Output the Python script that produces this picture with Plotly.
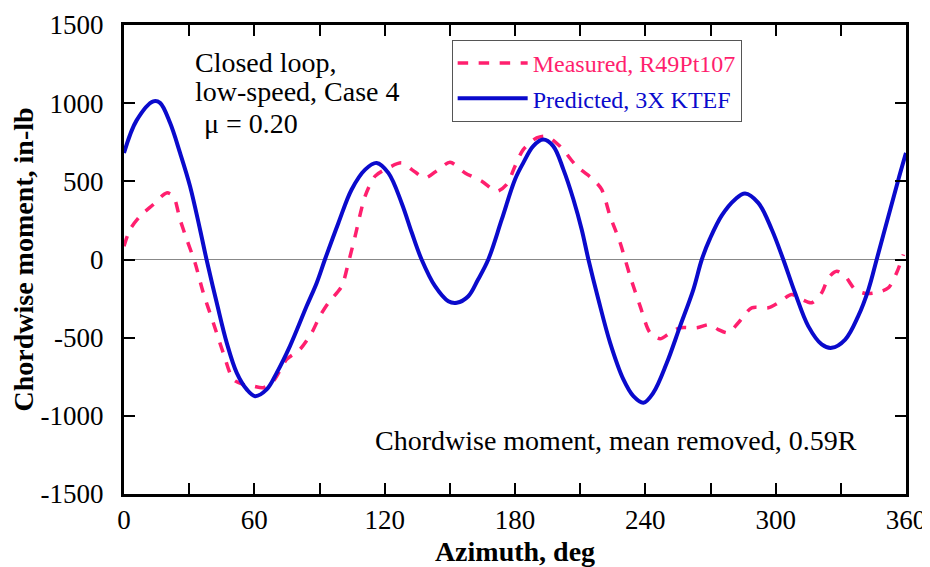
import plotly.graph_objects as go

# Predicted, 3X KTEF
pred_az = [0, 5.8, 13.5, 16.6, 21.2, 25.8, 30.4, 35, 38, 42.7, 47.3, 51.9, 56.5, 60.3, 65.7,
           70.3, 76.4, 84.1, 88.7, 92.5, 98.7, 104.8, 111, 116.3, 121.7, 127.8, 132.5, 137,
           143.2, 149.3, 153.2, 158.5, 163, 167.7, 173.9, 180, 183.8, 188.4, 193, 197.6, 202.3,
           206.9, 210.7, 213.8, 218.4, 223.8, 229.9, 234.5, 239.1, 243.7, 249.9, 256, 262.1, 266,
           269.8, 275.2, 281.3, 285.9, 292, 298.2, 303.5, 308.9, 315, 321.2, 325.8, 332, 338,
           342.7, 346.5, 351.9, 356.5, 360]
pred_mom = [682, 890, 1012, 1002, 874, 682, 469, 192, 0, -277, -533, -725, -831, -874, -831,
            -725, -554, -298, -150, 0, 234, 448, 575, 618, 554, 362, 171, 0,
            -171, -267, -277, -235, -128, 0, 256, 512, 618, 725, 767, 725, 575,
            384, 192, 0, -256, -533, -767, -874, -916, -852, -661, -426, -192, 0,
            135, 282, 384, 422, 362, 192, 0, -213, -426, -543, -565, -512, -362,
            -192, 0, 277, 512, 682]

# Measured, R49Pt107
meas_az = [0, 2.8, 7.4, 13.5, 19.6, 22.7, 25.8, 28.9, 32.7, 36.5, 41.1, 45.7, 50.3, 54.9, 59.5,
           64.1, 68.7, 74.9, 81, 86.4, 90.2, 94.1, 100.2, 103.3, 106.4, 111, 115.6, 121.7, 127.8,
           132.5, 138.6, 144.7, 150.1, 157, 164.7, 171.6, 176.2, 180, 183.8, 190, 194.6, 200.7,
           208.4, 216, 219.9, 223.8, 228.4, 233, 237.6, 242.2, 246.8, 251.4, 256, 263.7, 269.8,
           273.6, 278.2, 282.8, 289, 296.6, 301.2, 307.4, 312, 316.6, 321.2, 324.3, 328.1, 332,
           336.6, 341.2, 347.3, 351.9, 355.7, 358.8]
meas_mom = [85, 192, 277, 352, 426, 405, 256, 128, -21, -213, -405, -597, -767, -799, -810,
            -820, -778, -639, -575, -469, -362, -277, -171, -21, 149, 405, 533, 586, 618,
            575, 522, 575, 622, 554, 501, 437, 480, 597, 703, 778, 788, 725,
            597, 512, 448, 277, 107, -107, -298, -469, -507, -469, -437, -437, -416,
            -448, -469, -405, -309, -309, -277, -224, -256, -277, -213, -117, -75, -107,
            -192, -217, -209, -181, -85, 32]

y_ticks = [-1500, -1000, -500, 0, 500, 1000, 1500]
y_labels = ["-1500", "-1000", "-500", "0", "500", "1000", "1500"]

PINK = "#ff1f6e"
BLUE = "#0a0acc"
FONT = "Liberation Serif"

fig = go.Figure()
fig.add_trace(go.Scatter(
    x=meas_az, y=meas_mom, mode="lines", legendgroup="m",
    name=f"<span style='color:{PINK}'>Measured, R49Pt107</span>",
    line=dict(color=PINK, width=3.5, dash="dash", shape="spline", smoothing=0.8),
))
fig.add_trace(go.Scatter(
    x=pred_az, y=pred_mom, mode="lines", legendgroup="p",
    name=f"<span style='color:{BLUE}'>Predicted, 3X KTEF</span>",
    line=dict(color=BLUE, width=4, shape="spline", smoothing=1.0),
))

axis_common = dict(
    showline=True, linecolor="black", linewidth=3, mirror="ticks",
    ticks="inside", ticklen=11, tickwidth=1.5, tickcolor="black",
    showgrid=False, automargin=False,
    tickfont=dict(family=FONT, size=27, color="black"),
)
fig.update_xaxes(
    range=[0, 360], tick0=0, dtick=60,
    minor=dict(dtick=30, ticks="inside", ticklen=11, tickwidth=1.5, tickcolor="black"),
    title=dict(text="<b>Azimuth, deg</b>", font=dict(family=FONT, size=28, color="black")),
    zeroline=False, **axis_common,
)
fig.update_yaxes(
    range=[-1500, 1500], tickvals=y_ticks, ticktext=y_labels, ticklabelstandoff=12,
    title=dict(text="<b>Chordwise moment, in-lb</b>", font=dict(family=FONT, size=28, color="black")),
    zeroline=True, zerolinecolor="#888888", zerolinewidth=1, **axis_common,
)

note_font = dict(family=FONT, size=28, color="black")
for txt, xp, yp in [("Closed loop,", 0.088, 0.919),
                    ("low-speed, Case 4", 0.088, 0.859),
                    ("μ = 0.20", 0.100, 0.789)]:
    fig.add_annotation(x=xp, y=yp, xref="paper", yref="paper", xanchor="left", yanchor="middle",
                       text=txt, showarrow=False, font=note_font)
fig.add_annotation(
    x=0.318, y=0.115, xref="paper", yref="paper", xanchor="left", yanchor="middle",
    text="Chordwise moment, mean removed, 0.59R", showarrow=False, font=note_font,
)

# the page body adds an 8px margin, so the figure is 8px smaller than the window
fig.update_layout(
    width=922, height=559,
    margin=dict(l=116, r=24, t=17, b=73),
    paper_bgcolor="white", plot_bgcolor="white",
    showlegend=True,
    legend=dict(
        x=0.419, y=0.968, xanchor="left", yanchor="top",
        bgcolor="white", bordercolor="#555555", borderwidth=1,
        font=dict(family=FONT, size=24), itemwidth=70,
        traceorder="grouped", tracegroupgap=1,
    ),
)
fig.write_html("out.html")
